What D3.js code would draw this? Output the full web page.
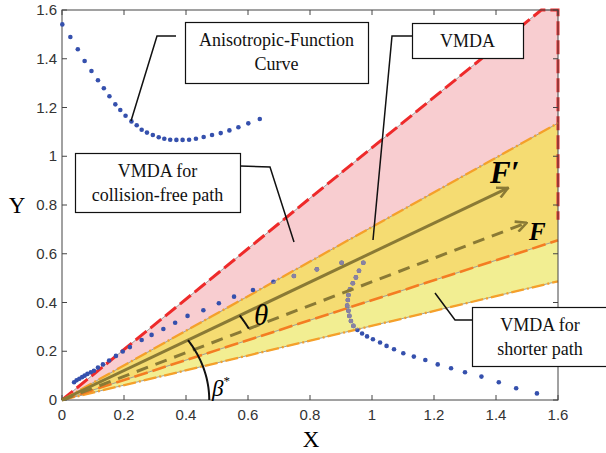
<!DOCTYPE html>
<html>
<head>
<meta charset="utf-8">
<script src="https://cdn.jsdelivr.net/npm/d3@7/dist/d3.min.js"></script>
<style>
  body { margin: 0; background: #fff; }
</style>
</head>
<body>
<div id="chart"></div>
<script>
// axis ticks
const xTicks = [0, 0.2, 0.4, 0.6, 0.8, 1, 1.2, 1.4, 1.6];
const yTicks = [0, 0.2, 0.4, 0.6, 0.8, 1, 1.2, 1.4, 1.6];

// boundaries of the VMDA regions (end points from the origin)
const redBoundary = [[0, 0], [1.546, 1.6], [1.6, 1.6], [1.6, 0.74]];
const upperOrange = [[0, 0], [1.6, 1.136]];
const middleOrange = [[0, 0], [1.6, 0.655]];
const lowerOrange = [[0, 0], [1.6, 0.487]];

// force vectors
const vecFprime = [[0, 0], [1.439, 0.870]];
const vecF = [[0, 0], [1.499, 0.727]];

// anisotropic-function curve, upper branch
const curveUpper = [
  [0.001, 1.541], [0.027, 1.489], [0.051, 1.439], [0.073, 1.391], [0.095, 1.350],
  [0.116, 1.312], [0.135, 1.279], [0.153, 1.246], [0.172, 1.213], [0.188, 1.190],
  [0.205, 1.166], [0.224, 1.143], [0.241, 1.127], [0.257, 1.109], [0.274, 1.097],
  [0.293, 1.087], [0.312, 1.078], [0.330, 1.072], [0.349, 1.068], [0.369, 1.067],
  [0.389, 1.067], [0.410, 1.068], [0.432, 1.072], [0.457, 1.079], [0.484, 1.087],
  [0.512, 1.095], [0.540, 1.106], [0.569, 1.119], [0.601, 1.135], [0.638, 1.153]
];

// anisotropic-function curve, lower branch
const curveLower = [
  [0.039, 0.073], [0.047, 0.081], [0.056, 0.087], [0.065, 0.094], [0.073, 0.100],
  [0.082, 0.107], [0.093, 0.114], [0.103, 0.120], [0.116, 0.133], [0.132, 0.146],
  [0.152, 0.162], [0.174, 0.181], [0.196, 0.199], [0.219, 0.217], [0.257, 0.246],
  [0.289, 0.267], [0.327, 0.291], [0.365, 0.317], [0.405, 0.345], [0.456, 0.368],
  [0.506, 0.397], [0.555, 0.424], [0.616, 0.451], [0.682, 0.485], [0.748, 0.509],
  [0.822, 0.536], [0.902, 0.563], [0.972, 0.563], [0.958, 0.530], [0.948, 0.503],
  [0.938, 0.479], [0.929, 0.454], [0.924, 0.431], [0.922, 0.410], [0.920, 0.387],
  [0.924, 0.366], [0.927, 0.345], [0.932, 0.324], [0.940, 0.304], [0.953, 0.287],
  [0.968, 0.273], [0.984, 0.261], [1.003, 0.249], [1.026, 0.236], [1.047, 0.222],
  [1.071, 0.208], [1.101, 0.192], [1.135, 0.178], [1.172, 0.164], [1.212, 0.146],
  [1.255, 0.130], [1.300, 0.114], [1.353, 0.096], [1.409, 0.073], [1.465, 0.048],
  [1.532, 0.027]
];

// annotation boxes
const notes = [
  {lines: ['Anisotropic-Function', 'Curve'], box: [185, 22, 183, 61], leader: [[176, 36], [157, 36], [131, 121]]},
  {lines: ['VMDA'], box: [412, 23, 111, 35], leader: [[412, 36], [392, 36], [373, 240]]},
  {lines: ['VMDA for', 'collision-free path'], box: [75, 153, 165, 59], leader: [[240, 166], [270, 167], [294, 242]]},
  {lines: ['VMDA for', 'shorter path'], box: [472, 307, 138, 59], leader: [[472, 320], [455, 320], [435, 293]]}
];

const W = 606, H = 453;
const margin = {top: 10, right: 48, bottom: 53, left: 62};
const width = W - margin.left - margin.right;
const height = H - margin.top - margin.bottom;

const sans = '"Liberation Sans", Arial, sans-serif';
const serif = '"Liberation Serif", "Times New Roman", serif';

const svg = d3.select('#chart').append('svg')
  .attr('width', W)
  .attr('height', H);

const chart = svg.append('g')
  .attr('transform', `translate(${margin.left},${margin.top})`);

const xScale = d3.scaleLinear().domain([0, 1.6]).range([0, width]);
const yScale = d3.scaleLinear().domain([0, 1.6]).range([height, 0]);

const line = d3.line().x(d => xScale(d[0])).y(d => yScale(d[1]));

// filled regions
const up = upperOrange[1], mid = middleOrange[1], low = lowerOrange[1];
const pinkPoly = [[0, 0], redBoundary[1], redBoundary[2], up];
const darkPoly = [[0, 0], up, mid];
const lightPoly = [[0, 0], mid, low];

chart.append('path').attr('d', line(pinkPoly) + 'Z').attr('fill', '#f8cdd0');
chart.append('path').attr('d', line(darkPoly) + 'Z').attr('fill', '#f5dc72');
chart.append('path').attr('d', line(lightPoly) + 'Z').attr('fill', '#f2ee92');

// thin grey outlines under the dashes
[redBoundary.slice(0, 3), upperOrange, middleOrange, lowerOrange].forEach(pts => {
  chart.append('path').attr('d', line(pts))
    .attr('fill', 'none').attr('stroke', '#8a8a8a').attr('stroke-width', 0.8);
});

// dashed boundaries
chart.append('path').attr('d', line(redBoundary))
  .attr('fill', 'none').attr('stroke', '#ee2a2a').attr('stroke-width', 3)
  .attr('stroke-dasharray', '14,5');
[upperOrange, lowerOrange].forEach(pts => {
  chart.append('path').attr('d', line(pts))
    .attr('fill', 'none').attr('stroke', '#f5a02a').attr('stroke-width', 2.3)
    .attr('stroke-dasharray', '13,3,2,3');
});
chart.append('path').attr('d', line(middleOrange))
  .attr('fill', 'none').attr('stroke', '#f47c22').attr('stroke-width', 2.6)
  .attr('stroke-dasharray', '14,5');

// frame and ticks
chart.append('rect')
  .attr('x', 0).attr('y', 0).attr('width', width).attr('height', height)
  .attr('fill', 'none').attr('stroke', '#444').attr('stroke-width', 1);

const tickLen = 5;
xTicks.forEach(t => {
  const x = xScale(t);
  chart.append('line').attr('x1', x).attr('x2', x).attr('y1', height).attr('y2', height - tickLen)
    .attr('stroke', '#444');
  chart.append('line').attr('x1', x).attr('x2', x).attr('y1', 0).attr('y2', tickLen)
    .attr('stroke', '#444');
  chart.append('text')
    .attr('x', x).attr('y', height + 20)
    .attr('text-anchor', 'middle')
    .style('font-family', sans).style('font-size', '15px').attr('fill', '#333')
    .text(d3.format('~g')(t));
});
yTicks.forEach(t => {
  const y = yScale(t);
  chart.append('line').attr('x1', 0).attr('x2', tickLen).attr('y1', y).attr('y2', y)
    .attr('stroke', '#444');
  chart.append('line').attr('x1', width).attr('x2', width - tickLen).attr('y1', y).attr('y2', y)
    .attr('stroke', '#444');
  chart.append('text')
    .attr('x', -5).attr('y', y + 5)
    .attr('text-anchor', 'end')
    .style('font-family', sans).style('font-size', '15px').attr('fill', '#333')
    .text(d3.format('~g')(t));
});

// anisotropic-function curve dots, grey where covered by the yellow area
const allDots = curveUpper.concat(curveLower);
chart.append('g').selectAll('circle')
  .data(allDots)
  .join('circle')
  .attr('cx', d => xScale(d[0]))
  .attr('cy', d => yScale(d[1]))
  .attr('r', 2.3)
  .attr('fill', '#3550ad');

chart.append('clipPath').attr('id', 'yellowClip')
  .append('path').attr('d', line([[0, 0], up, low]) + 'Z');
chart.append('g').attr('clip-path', 'url(#yellowClip)')
  .selectAll('circle')
  .data(allDots)
  .join('circle')
  .attr('cx', d => xScale(d[0]))
  .attr('cy', d => yScale(d[1]))
  .attr('r', 2.3)
  .attr('fill', '#8a82a2');

// arrows
const olive = '#8a7a35';
svg.append('defs').append('marker')
  .attr('id', 'head')
  .attr('viewBox', '0 0 12 12')
  .attr('refX', 11).attr('refY', 6)
  .attr('markerWidth', 13).attr('markerHeight', 13)
  .attr('markerUnits', 'userSpaceOnUse')
  .attr('orient', 'auto')
  .append('path')
  .attr('d', 'M1,1 L11,6 L1,11')
  .attr('fill', 'none').attr('stroke', olive).attr('stroke-width', 2.4);

chart.append('path').attr('d', line(vecFprime))
  .attr('fill', 'none').attr('stroke', olive).attr('stroke-width', 3)
  .attr('marker-end', 'url(#head)');
chart.append('path').attr('d', line(vecF))
  .attr('fill', 'none').attr('stroke', olive).attr('stroke-width', 3)
  .attr('stroke-dasharray', '12,8')
  .attr('marker-end', 'url(#head)');

// angle arcs
function arcPts(r, a0, a1) {
  return d3.range(0, 21).map(i => {
    const a = a0 + (a1 - a0) * i / 20;
    return [r * Math.cos(a), r * Math.sin(a)];
  });
}
const angFp = Math.atan2(vecFprime[1][1], vecFprime[1][0]);
const angF = Math.atan2(vecF[1][1], vecF[1][0]);
chart.append('path').attr('d', line(arcPts(0.475, 0, angFp)))
  .attr('fill', 'none').attr('stroke', '#111').attr('stroke-width', 2);
chart.append('path').attr('d', line(arcPts(0.67, angFp, angF)))
  .attr('fill', 'none').attr('stroke', '#111').attr('stroke-width', 2);

// symbols
svg.append('text').attr('x', 490).attr('y', 183)
  .style('font-family', serif).style('font-size', '31px')
  .style('font-weight', 'bold').style('font-style', 'italic')
  .text('F\u2032');
svg.append('text').attr('x', 529).attr('y', 240)
  .style('font-family', serif).style('font-size', '25px')
  .style('font-weight', 'bold').style('font-style', 'italic')
  .text('F');
svg.append('text').attr('x', 254).attr('y', 325)
  .style('font-family', serif).style('font-size', '29px').style('font-style', 'italic')
  .text('\u03B8');
const beta = svg.append('text').attr('x', 212).attr('y', 396)
  .style('font-family', serif).style('font-size', '23px').style('font-style', 'italic');
beta.append('tspan').text('\u03B2');
beta.append('tspan').attr('dy', -11).style('font-size', '13px').style('font-style', 'normal').text('*');

// axis titles
svg.append('text').attr('x', 311).attr('y', 447).attr('text-anchor', 'middle')
  .style('font-family', serif).style('font-size', '23px').text('X');
svg.append('text').attr('x', 17).attr('y', 213).attr('text-anchor', 'middle')
  .style('font-family', serif).style('font-size', '23px').text('Y');

// annotation boxes
notes.forEach(n => {
  svg.append('path').attr('d', d3.line()(n.leader))
    .attr('fill', 'none').attr('stroke', '#111').attr('stroke-width', 1.5);
  const [bx, by, bw, bh] = n.box;
  svg.append('rect').attr('x', bx + 0.5).attr('y', by + 0.5).attr('width', bw).attr('height', bh)
    .attr('fill', '#fff').attr('stroke', '#111').attr('stroke-width', 1.2);
  const cx = n.lines.length === 2 && bx > 400 ? 540 : bx + bw / 2;
  const first = n.lines.length === 1 ? by + bh / 2 + 6 : by + 24;
  n.lines.forEach((s, i) => {
    svg.append('text')
      .attr('x', cx).attr('y', first + i * 24)
      .attr('text-anchor', 'middle')
      .style('font-family', serif).style('font-size', '18px').attr('fill', '#111')
      .text(s);
  });
});
</script>
</body>
</html>
